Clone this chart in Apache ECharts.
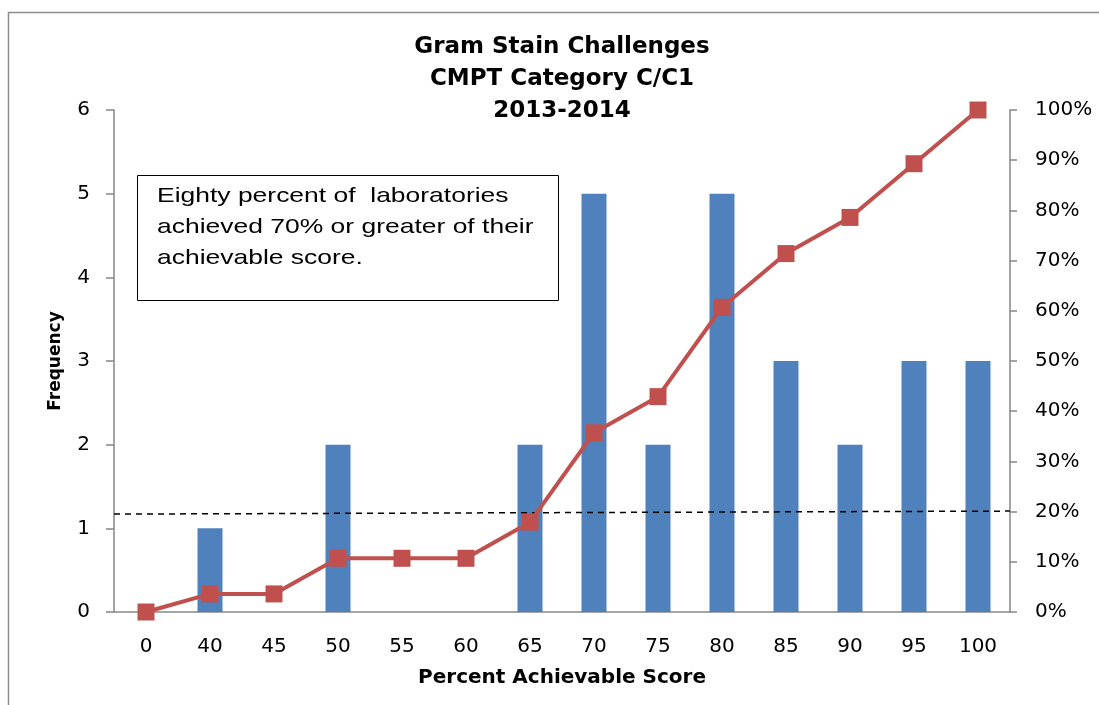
<!DOCTYPE html>
<html>
<head>
<meta charset="utf-8">
<script src="https://cdn.jsdelivr.net/npm/echarts@6/dist/echarts.min.js"></script>
<style>
  html, body { margin: 0; padding: 0; background: #fff; }
  #app { width: 1099px; height: 705px; }
</style>
</head>
<body>
<div id="app"></div>
<script>
// percent achievable score buckets
const scores = ['0', '40', '45', '50', '55', '60', '65', '70', '75', '80', '85', '90', '95', '100'];
// number of labs per bucket
const frequency = [0, 1, 0, 2, 0, 0, 2, 5, 2, 5, 3, 2, 3, 3];
// cumulative percent (right axis)
const cumulative = [0, 3.6, 3.6, 10.7, 10.7, 10.7, 17.9, 35.7, 42.9, 60.7, 71.4, 78.6, 89.3, 100];
// dashed reference line, start and end (percent)
const refLine = [[0, 19.5], [1, 20.1]];

const titleLines = ['Gram Stain Challenges', 'CMPT Category C/C1', '2013-2014'];
const noteLines = ['Eighty percent of  laboratories', 'achieved 70% or greater of their', 'achievable score.'];

const axisGray = '#868686';
const labelFont = { fontFamily: 'DejaVu Sans', fontSize: 20, color: '#000' };
const nameFont = { fontFamily: 'DejaVu Sans', fontWeight: 'bold', color: '#000' };

const chart = echarts.init(document.getElementById('app'));

chart.setOption({
  animation: false,
  title: {
    text: titleLines.join('\n'),
    left: 557,
    top: 26,
    textAlign: 'center',
    textStyle: { fontFamily: 'DejaVu Sans', fontWeight: 'bold', fontSize: 23, lineHeight: 32, color: '#000' }
  },
  grid: { left: 114, right: 89, top: 110, bottom: 93 },
  xAxis: [
    {
      type: 'category',
      data: scores,
      name: 'Percent Achievable Score',
      nameLocation: 'middle',
      nameGap: 56,
      nameTextStyle: Object.assign({ fontSize: 20 }, nameFont),
      axisLine: { lineStyle: { color: axisGray, width: 1.5 } },
      axisTick: { length: 8, interval: 0, lineStyle: { color: axisGray, width: 1.5 } },
      axisLabel: Object.assign({ interval: 0, margin: 25 }, labelFont)
    },
    { type: 'value', min: 0, max: 1, show: false }
  ],
  yAxis: [
    {
      type: 'value',
      min: 0, max: 6, interval: 1,
      name: 'Frequency',
      nameLocation: 'middle',
      nameGap: 50,
      nameRotate: 90,
      nameTextStyle: Object.assign({ fontSize: 17 }, nameFont),
      axisLine: { show: true, lineStyle: { color: axisGray, width: 1.5 } },
      axisTick: { show: true, length: 8, lineStyle: { color: axisGray, width: 1.5 } },
      splitLine: { show: false },
      axisLabel: Object.assign({ margin: 24 }, labelFont)
    },
    {
      type: 'value',
      min: 0, max: 100, interval: 10,
      position: 'right',
      axisLine: { show: true, lineStyle: { color: axisGray, width: 1.5 } },
      axisTick: { show: true, length: 7, lineStyle: { color: axisGray, width: 1.5 } },
      splitLine: { show: false },
      axisLabel: Object.assign({ margin: 25, formatter: '{value}%' }, labelFont)
    }
  ],
  series: [
    {
      name: 'Frequency',
      type: 'bar',
      data: frequency,
      barWidth: 25,
      itemStyle: { color: '#4F81BD' },
      z: 2
    },
    {
      name: 'Reference',
      type: 'line',
      xAxisIndex: 1,
      yAxisIndex: 1,
      data: refLine,
      symbol: 'none',
      lineStyle: { color: '#000', width: 1.5, type: [6, 5] },
      z: 3
    },
    {
      name: 'Cumulative %',
      type: 'line',
      yAxisIndex: 1,
      data: cumulative,
      symbol: 'rect',
      symbolSize: 17,
      lineStyle: { color: '#C0504D', width: 4 },
      itemStyle: { color: '#C0504D' },
      z: 4
    }
  ],
  graphic: [
    {
      type: 'rect',
      left: 6, top: 10,
      shape: { width: 1200, height: 800 },
      style: { fill: 'none', stroke: '#8c8c8c', lineWidth: 1.5 },
      silent: true
    },
    {
      type: 'rect',
      left: 137, top: 175,
      shape: { width: 421, height: 125 },
      style: { fill: '#fff', stroke: '#000', lineWidth: 1 },
      z: 10
    },
    {
      type: 'text',
      x: 157, y: 181,
      scaleX: 1.26,
      style: {
        text: noteLines.join('\n'),
        fontFamily: 'Liberation Sans',
        fontSize: 21,
        lineHeight: 31,
        fill: '#000'
      },
      z: 11
    }
  ]
});
</script>
</body>
</html>
